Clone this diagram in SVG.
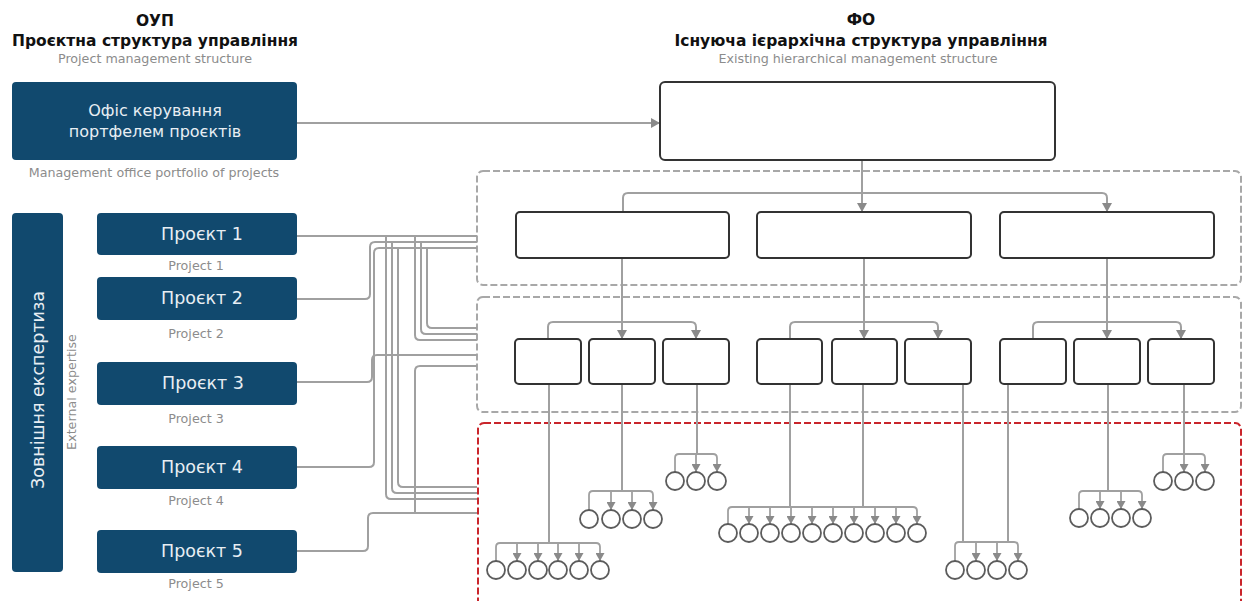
<svg xmlns="http://www.w3.org/2000/svg" width="1243" height="601" viewBox="0 0 1243 601">
<style>
.t{font-family:"DejaVu Sans","Liberation Sans",sans-serif}
.ttl{font-weight:bold;font-size:15.5px;fill:#111;text-anchor:middle}
.sub{font-size:12.7px;fill:#8c8c8c;text-anchor:middle}
.bt{font-size:16px;fill:#e8eef3;text-anchor:middle}
.pt{font-size:17.5px;fill:#e8eef3;text-anchor:middle}
.blue{fill:#11496e}
.box{fill:#fff;stroke:#333;stroke-width:2}
.dash{fill:none;stroke:#a8a8a8;stroke-width:2;stroke-dasharray:7 3}
.red{fill:none;stroke:#c9252b;stroke-width:2;stroke-dasharray:7 3}
.c{fill:none;stroke:#a0a0a0;stroke-width:2}
.ca{fill:none;stroke:#a0a0a0;stroke-width:2;marker-end:url(#arr)}
.cs{fill:none;stroke:#a0a0a0;stroke-width:1.8;marker-end:url(#arrs)}
.o{fill:#fff;stroke:#5c5c5c;stroke-width:1.8}
</style>
<defs>
<marker id="arr" viewBox="0 0 10 10" refX="10" refY="5" markerWidth="9" markerHeight="10" markerUnits="userSpaceOnUse" orient="auto" preserveAspectRatio="none"><path d="M0,0 L10,5 L0,10 z" fill="#8a8a8a"/></marker>
<marker id="arrs" viewBox="0 0 10 10" refX="10" refY="5" markerWidth="8" markerHeight="9" markerUnits="userSpaceOnUse" orient="auto" preserveAspectRatio="none"><path d="M0,0 L10,5 L0,10 z" fill="#8a8a8a"/></marker>
</defs>
<rect width="1243" height="601" fill="#fff"/>

<g id="titles" class="t">
<text class="ttl" x="155" y="26" font-size="17">ОУП</text>
<text class="ttl" x="155" y="46">Проєктна структура управління</text>
<text class="sub" x="155" y="63">Project management structure</text>
<text class="ttl" x="861" y="25" font-size="17">ФО</text>
<text class="ttl" x="861" y="46">Існуюча ієрархічна структура управління</text>
<text class="sub" x="858" y="63">Existing hierarchical management structure</text>
</g>

<g id="containers">
<rect id="level1" class="dash" x="477" y="171" width="764" height="114" rx="6"/>
<rect id="level2" class="dash" x="477" y="297" width="764" height="115" rx="6"/>
<rect id="level3" class="red" x="478" y="423" width="763" height="200" rx="6"/>
</g>

<g id="connectors">
<path class="ca" d="M297,123 H660"/>
<path class="c" d="M297,236 H477"/>
<path class="c" d="M386,236 V494 Q386,499 391,499 H477"/>
<path class="c" d="M415,236 V335 Q415,340 420,340 H477"/>
<path class="c" d="M297,299 H365 Q370,299 370,294 V247 Q370,242 375,242 H477"/>
<path class="c" d="M392,242 V488 Q392,493 397,493 H477"/>
<path class="c" d="M421,242 V329 Q421,334 426,334 H477"/>
<path class="c" d="M297,467 H369 Q374,467 374,462 V253 Q374,248 379,248 H477"/>
<path class="c" d="M398,248 V482 Q398,487 403,487 H477"/>
<path class="c" d="M427,248 V323 Q427,328 432,328 H477"/>
<path class="c" d="M297,382 H367 Q372,382 372,377 V360 Q372,355 377,355 H477"/>
<path class="c" d="M297,551 H363 Q368,551 368,546 V518 Q368,513 373,513 H477"/>
<path class="c" d="M415,513 V371 Q415,366 420,366 H477"/>

<path class="ca" d="M862,161 V212"/>
<path class="ca" d="M623,212 V198 Q623,193 628,193 H1102 Q1107,193 1107,198 V212"/>

<path class="ca" d="M622,258 V339"/>
<path class="ca" d="M548,339 V327 Q548,322 553,322 H691 Q696,322 696,327 V339"/>
<path class="ca" d="M864,258 V339"/>
<path class="ca" d="M790,339 V327 Q790,322 795,322 H933 Q938,322 938,327 V339"/>
<path class="ca" d="M1107,258 V339"/>
<path class="ca" d="M1033,339 V327 Q1033,322 1038,322 H1176 Q1181,322 1181,327 V339"/>

<path class="c" d="M549,384 V543"/>
<path class="c" d="M622,384 V491"/>
<path class="c" d="M697,384 V454"/>
<path class="c" d="M790,384 V507"/>
<path class="c" d="M863,384 V507"/>
<path class="c" d="M963,384 V542"/>
<path class="c" d="M1008,384 V542"/>
<path class="c" d="M1108,384 V491"/>
<path class="c" d="M1184,384 V454"/>

<path class="cs" d="M496,561 V547 Q496,543 500,543 H596 Q600,543 600,547 V561"/>
<path class="cs" d="M517,543 V561"/><path class="cs" d="M538,543 V561"/><path class="cs" d="M558,543 V561"/><path class="cs" d="M579,543 V561"/>

<path class="cs" d="M589,510 V495 Q589,491 593,491 H649 Q653,491 653,495 V510"/>
<path class="cs" d="M611,491 V510"/><path class="cs" d="M632,491 V510"/>

<path class="cs" d="M675,472 V458 Q675,454 679,454 H713 Q717,454 717,458 V472"/>
<path class="cs" d="M696,454 V472"/>

<path class="cs" d="M728,524 V511 Q728,507 732,507 H913 Q917,507 917,511 V524"/>
<path class="cs" d="M749,507 V524"/><path class="cs" d="M770,507 V524"/><path class="cs" d="M791,507 V524"/><path class="cs" d="M812,507 V524"/><path class="cs" d="M833,507 V524"/><path class="cs" d="M854,507 V524"/><path class="cs" d="M875,507 V524"/><path class="cs" d="M896,507 V524"/>

<path class="cs" d="M955,561 V546 Q955,542 959,542 H1014 Q1018,542 1018,546 V561"/>
<path class="cs" d="M976,542 V561"/><path class="cs" d="M997,542 V561"/>

<path class="cs" d="M1079,509 V495 Q1079,491 1083,491 H1138 Q1142,491 1142,495 V509"/>
<path class="cs" d="M1100,491 V509"/><path class="cs" d="M1121,491 V509"/>

<path class="cs" d="M1163,472 V458 Q1163,454 1167,454 H1201 Q1205,454 1205,458 V472"/>
<path class="cs" d="M1184,454 V472"/>
</g>

<g id="office" class="t">
<rect class="blue" x="12" y="82" width="285" height="78" rx="4"/>
<text class="bt" x="155" y="116">Офіс керування</text>
<text class="bt" x="155" y="137">портфелем проєктів</text>
<text class="sub" x="154" y="177">Management office portfolio of projects</text>
</g>

<g id="expertise" class="t">
<rect class="blue" x="12" y="213" width="51" height="359" rx="4"/>
<text class="pt" font-size="16.5" transform="translate(44,390) rotate(-90)">Зовнішня експертиза</text>
<text class="sub" transform="translate(76,392) rotate(-90)">External expertise</text>
</g>

<g id="project1" class="t"><rect class="blue" x="97" y="213" width="200" height="42" rx="4"/><text class="pt" x="202" y="240">Проєкт 1</text><text class="sub" x="196" y="270">Project 1</text></g>
<g id="project2" class="t"><rect class="blue" x="97" y="277" width="200" height="43" rx="4"/><text class="pt" x="202" y="304">Проєкт 2</text><text class="sub" x="196" y="338">Project 2</text></g>
<g id="project3" class="t"><rect class="blue" x="97" y="362" width="200" height="43" rx="4"/><text class="pt" x="203" y="389">Проєкт 3</text><text class="sub" x="196" y="423">Project 3</text></g>
<g id="project4" class="t"><rect class="blue" x="97" y="446" width="200" height="43" rx="4"/><text class="pt" x="202" y="473">Проєкт 4</text><text class="sub" x="196" y="505">Project 4</text></g>
<g id="project5" class="t"><rect class="blue" x="97" y="530" width="200" height="43" rx="4"/><text class="pt" x="202" y="557">Проєкт 5</text><text class="sub" x="196" y="588">Project 5</text></g>

<g id="top"><rect class="box" x="660" y="82" width="395" height="78" rx="5"/></g>
<g id="l1a"><rect class="box" x="516" y="212" width="213" height="46" rx="4"/></g>
<g id="l1b"><rect class="box" x="757" y="212" width="214" height="46" rx="4"/></g>
<g id="l1c"><rect class="box" x="1000" y="212" width="214" height="46" rx="4"/></g>

<g id="l2a1"><rect class="box" x="515" y="339" width="66" height="45" rx="4"/></g>
<g id="l2a2"><rect class="box" x="589" y="339" width="66" height="45" rx="4"/></g>
<g id="l2a3"><rect class="box" x="663" y="339" width="66" height="45" rx="4"/></g>
<g id="l2b1"><rect class="box" x="757" y="339" width="65" height="45" rx="4"/></g>
<g id="l2b2"><rect class="box" x="832" y="339" width="65" height="45" rx="4"/></g>
<g id="l2b3"><rect class="box" x="905" y="339" width="66" height="45" rx="4"/></g>
<g id="l2c1"><rect class="box" x="1000" y="339" width="66" height="45" rx="4"/></g>
<g id="l2c2"><rect class="box" x="1074" y="339" width="66" height="45" rx="4"/></g>
<g id="l2c3"><rect class="box" x="1148" y="339" width="66" height="45" rx="4"/></g>

<g id="units">
<g id="g1"><circle class="o" cx="496" cy="570" r="9"/><circle class="o" cx="517" cy="570" r="9"/><circle class="o" cx="538" cy="570" r="9"/><circle class="o" cx="558" cy="570" r="9"/><circle class="o" cx="579" cy="570" r="9"/><circle class="o" cx="600" cy="570" r="9"/></g>
<g id="g2"><circle class="o" cx="589" cy="519" r="9"/><circle class="o" cx="611" cy="519" r="9"/><circle class="o" cx="632" cy="519" r="9"/><circle class="o" cx="653" cy="519" r="9"/></g>
<g id="g3"><circle class="o" cx="675" cy="481" r="9"/><circle class="o" cx="696" cy="481" r="9"/><circle class="o" cx="717" cy="481" r="9"/></g>
<g id="g4"><circle class="o" cx="728" cy="533" r="9"/><circle class="o" cx="749" cy="533" r="9"/><circle class="o" cx="770" cy="533" r="9"/><circle class="o" cx="791" cy="533" r="9"/><circle class="o" cx="812" cy="533" r="9"/><circle class="o" cx="833" cy="533" r="9"/><circle class="o" cx="854" cy="533" r="9"/><circle class="o" cx="875" cy="533" r="9"/><circle class="o" cx="896" cy="533" r="9"/><circle class="o" cx="917" cy="533" r="9"/></g>
<g id="g5"><circle class="o" cx="955" cy="570" r="9"/><circle class="o" cx="976" cy="570" r="9"/><circle class="o" cx="997" cy="570" r="9"/><circle class="o" cx="1018" cy="570" r="9"/></g>
<g id="g6"><circle class="o" cx="1079" cy="518" r="9"/><circle class="o" cx="1100" cy="518" r="9"/><circle class="o" cx="1121" cy="518" r="9"/><circle class="o" cx="1142" cy="518" r="9"/></g>
<g id="g7"><circle class="o" cx="1163" cy="481" r="9"/><circle class="o" cx="1184" cy="481" r="9"/><circle class="o" cx="1205" cy="481" r="9"/></g>
</g>
</svg>
